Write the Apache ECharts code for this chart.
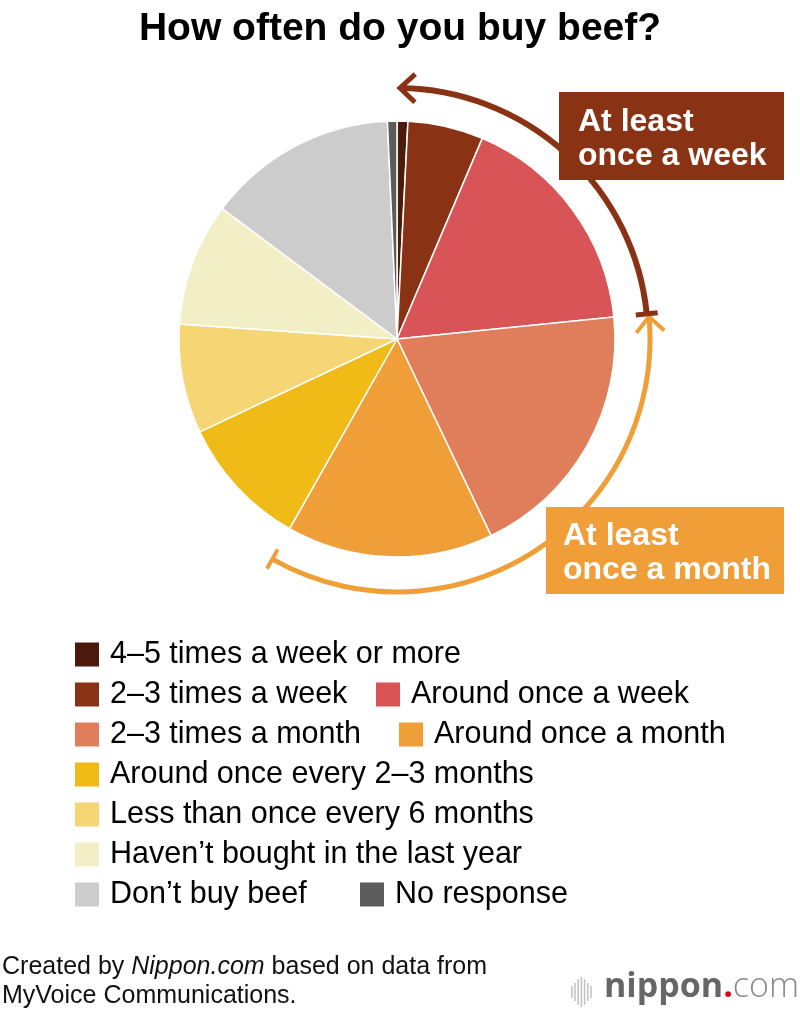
<!DOCTYPE html>
<html>
<head>
<meta charset="utf-8">
<script src="https://cdn.jsdelivr.net/npm/echarts@6/dist/echarts.min.js"></script>
<style>
html, body { margin: 0; padding: 0; background: #fff; }
#chart { width: 800px; height: 1014px; }
</style>
</head>
<body>
<div id="chart"></div>
<script>
// 数据
var categories = ['4–5 times a week or more', '2–3 times a week', 'Around once a week',
    '2–3 times a month', 'Around once a month', 'Around once every 2–3 months',
    'Less than once every 6 months', 'Haven’t bought in the last year', 'Don’t buy beef', 'No response'];
var shares = [0.8, 5.6, 17.0, 19.5, 15.3, 9.8, 8.1, 9.1, 14.1, 0.7];
var sliceColors = ['#4b1a0c', '#8a3214', '#d95456', '#e07e5c', '#f09e38',
    '#f1bb17', '#f6d574', '#f2efc7', '#cccccc', '#5c5c5c'];
// brackets: which slices each arrow spans
var bracketText = ['At least\nonce a week', 'At least\nonce a month'];
var bracketFrom = [0, 3];
var bracketTo = [3, 5];

var FONT = '"Liberation Sans", Arial, Helvetica, sans-serif';
var cx = 397, cy = 339, R = 218, AR = 251;

var myChart = echarts.init(document.getElementById('chart'));

var total = shares.reduce(function (a, b) { return a + b; }, 0);
function angleAt(idx) { // compass angle (deg, clockwise from top) at start of slice idx
    var s = 0;
    for (var i = 0; i < idx; i++) s += shares[i];
    return s / total * 360;
}
function pt(deg, r) {
    var t = deg * Math.PI / 180;
    return [cx + r * Math.sin(t), cy - r * Math.cos(t)];
}
function rad(deg) { return (deg - 90) * Math.PI / 180; }

var graphics = [];
function bracket(a0, a1, color, lw, r) {
    // arc
    graphics.push({
        type: 'arc', z: 10,
        shape: { cx: cx, cy: cy, r: r, startAngle: rad(a0), endAngle: rad(a1), clockwise: true },
        style: { stroke: color, lineWidth: lw, fill: 'none' }
    });
    // arrow head at a0, pointing counter-clockwise
    var tip = pt(a0, r);
    var t = a0 * Math.PI / 180;
    var d = [Math.cos(t), Math.sin(t)], n = [Math.sin(t), -Math.cos(t)];
    graphics.push({
        type: 'polyline', z: 10,
        shape: { points: [
            [tip[0] + 15 * d[0] + 14 * n[0], tip[1] + 15 * d[1] + 14 * n[1]],
            tip,
            [tip[0] + 15 * d[0] - 14 * n[0], tip[1] + 15 * d[1] - 14 * n[1]]
        ] },
        style: { stroke: color, lineWidth: lw - 1, fill: 'none', lineJoin: 'miter' }
    });
    // end tick
    var p1 = pt(a1, r - 11), p2 = pt(a1, r + 11);
    graphics.push({
        type: 'line', z: 11,
        shape: { x1: p1[0], y1: p1[1], x2: p2[0], y2: p2[1] },
        style: { stroke: color, lineWidth: lw - 1 }
    });
}
var wk0 = angleAt(bracketFrom[0]), wk1 = angleAt(bracketTo[0]);
var mo0 = angleAt(bracketFrom[1]), mo1 = angleAt(bracketTo[1]);
bracket(wk0 + 0.7, wk1, sliceColors[1], 6, AR);
bracket(mo0 + 0.7, mo1, sliceColors[4], 5, AR + 2);

// label boxes
graphics.push({ type: 'rect', z: 20, shape: { x: 559, y: 92, width: 225, height: 88 }, style: { fill: sliceColors[1] } });
graphics.push({ type: 'text', z: 21, left: 578, top: 105,
    style: { text: bracketText[0], fill: '#fff', font: 'bold 32px ' + FONT, lineHeight: 34 } });
graphics.push({ type: 'rect', z: 20, shape: { x: 546, y: 507, width: 238, height: 87 }, style: { fill: sliceColors[4] } });
graphics.push({ type: 'text', z: 21, left: 563, top: 519,
    style: { text: bracketText[1], fill: '#fff', font: 'bold 32px ' + FONT, lineHeight: 34 } });

// source
graphics.push({ type: 'text', left: 2, top: 955,
    style: {
        text: '{a|Created by }{i|Nippon.com}{a| based on data from}\n{a|MyVoice Communications.}',
        rich: {
            a: { fontSize: 25, fontFamily: FONT, fill: '#111', lineHeight: 29 },
            i: { fontSize: 25, fontFamily: FONT, fontStyle: 'italic', fill: '#111', lineHeight: 29 }
        }
    } });
// logo
var barH = [12, 18, 26, 30, 26, 18, 12];
for (var b = 0; b < barH.length; b++) {
    graphics.push({ type: 'rect', shape: { x: 571 + b * 3.2, y: 992 - barH[b] / 2, width: 1.6, height: barH[b] }, style: { fill: '#c4c4c4' } });
}
graphics.push({ type: 'text', left: 604, top: 970,
    style: {
        text: '{n|nippon}{d|.}{c|com}',
        rich: {
            n: { fontSize: 34, fontWeight: 'bold', fontFamily: '"Open Sans", sans-serif', fill: '#666666' },
            d: { fontSize: 34, fontWeight: 'bold', fontFamily: '"Open Sans", sans-serif', fill: '#e60012' },
            c: { fontSize: 34, fontWeight: 300, fontFamily: '"Open Sans", sans-serif', fill: '#8a8a8a' }
        }
    } });

// legend: one component per item
var legendPos = [[73, 639], [73, 679], [374, 679], [73, 719], [397, 719],
    [73, 759], [73, 799], [73, 839], [73, 879], [358, 879]];
var legends = categories.map(function (name, i) {
    return {
        data: [name],
        left: legendPos[i][0],
        top: legendPos[i][1],
        padding: 0,
        icon: 'rect',
        itemWidth: 26,
        itemHeight: 26,
        selectedMode: false,
        textStyle: { fontSize: 30.5, color: '#000', fontFamily: FONT, lineHeight: 26, padding: [0, 0, 0, 5] }
    };
});

var option = {
    animation: false,
    color: sliceColors,
    title: {
        text: 'How often do you buy beef?',
        left: 'center',
        top: 5,
        textStyle: { fontSize: 39, fontWeight: 'bold', color: '#000', fontFamily: FONT }
    },
    legend: legends,
    graphic: graphics,
    series: [{
        type: 'pie',
        center: [cx, cy],
        radius: R,
        startAngle: 90,
        clockwise: true,
        silent: true,
        label: { show: false },
        labelLine: { show: false },
        itemStyle: { borderColor: '#fff', borderWidth: 1.5 },
        data: categories.map(function (c, i) { return { name: c, value: shares[i] }; })
    }]
};
myChart.setOption(option);
</script>
</body>
</html>
